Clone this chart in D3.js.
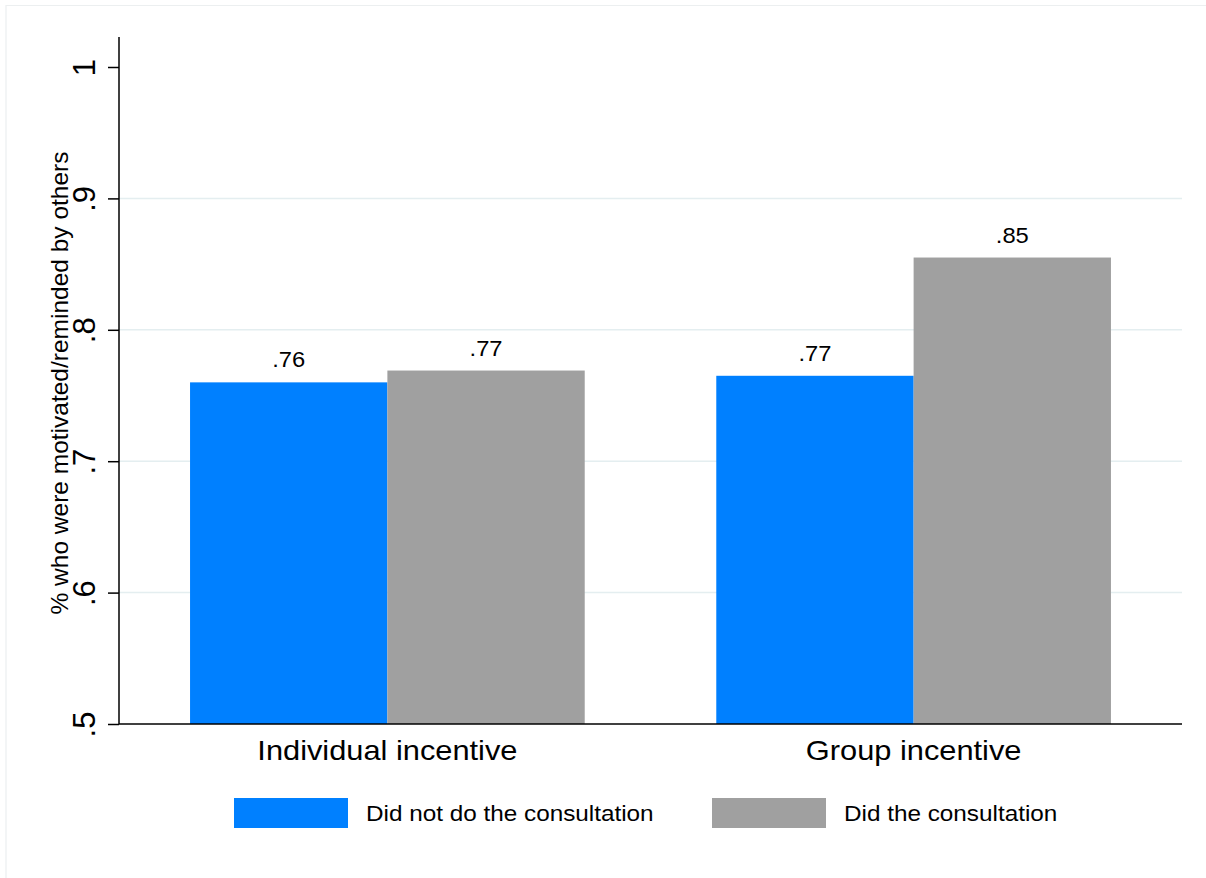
<!DOCTYPE html>
<html><head><meta charset="utf-8">
<script src="https://cdn.jsdelivr.net/npm/d3@7"></script>
<style>body{margin:0;background:#fff}svg{display:block}text{font-family:"Liberation Sans",Arial,Helvetica,sans-serif;fill:#000}</style>
</head><body>
<script>
const categories = ["Individual incentive", "Group incentive"];
const seriesNames = ["Did not do the consultation", "Did the consultation"];
const notConsulted = [0.76, 0.765];
const consulted = [0.769, 0.855];
const valueLabels = [[".76", ".77"], [".77", ".85"]];
const yTicks = [0.5, 0.6, 0.7, 0.8, 0.9, 1];
const yTickLabels = [".5", ".6", ".7", ".8", ".9", "1"];
const colors = ["#0080ff", "#a0a0a0"];

const W = 1206, H = 878;
const SX = 1.08; // horizontal text stretch seen in the reference
const svg = d3.select("body").append("svg").attr("width", W).attr("height", H);
svg.append("path").attr("d", `M6,${H}V5.5H${W}`).attr("fill", "none").attr("stroke", "#eceff0").attr("stroke-width", 1.2);

const pL = 119, pR = 1182, pT = 37, pB = 724;
const y = d3.scaleLinear().domain([0.5, 1]).range([pB, 67]);
const x0 = d3.scaleBand().domain(categories).range([pL, pR]).paddingInner(0.25).paddingOuter(0.135);
const x1 = d3.scaleBand().domain(seriesNames).range([0, x0.bandwidth()]);

// grid
svg.append("g").selectAll("line").data(yTicks.filter(t => t > 0.5 && t < 1)).join("line")
  .attr("x1", pL).attr("x2", pR).attr("y1", d => y(d)).attr("y2", d => y(d))
  .attr("stroke", "#e4eef0").attr("stroke-width", 1.5);

const rows = categories.map((c, i) => ({cat: c, vals: [notConsulted[i], consulted[i]], labs: valueLabels[i]}));
const g = svg.append("g").selectAll("g").data(rows).join("g")
  .attr("transform", d => `translate(${x0(d.cat)},0)`);
g.selectAll("rect").data(d => d.vals.map((v, j) => ({v, s: seriesNames[j], j}))).join("rect")
  .attr("x", d => x1(d.s)).attr("width", x1.bandwidth())
  .attr("y", d => y(d.v)).attr("height", d => y(0.5) - y(d.v))
  .attr("fill", d => colors[d.j]);
g.selectAll("text").data(d => d.vals.map((v, j) => ({v, s: seriesNames[j], l: d.labs[j]}))).join("text")
  .attr("transform", d => `translate(${x1(d.s) + x1.bandwidth() / 2},${y(d.v) - 15}) scale(${SX},1)`)
  .attr("text-anchor", "middle").attr("font-size", 22).text(d => d.l);

// y axis
const yAxis = d3.axisLeft(y).tickValues(yTicks).tickSize(11).tickFormat((d, i) => yTickLabels[i]);
const ya = svg.append("g").attr("transform", `translate(${pL},0)`).call(yAxis);
ya.select(".domain").attr("d", `M0,${pT}V${pB}`).attr("stroke", "#000").attr("stroke-width", 1.5);
ya.selectAll(".tick line").attr("stroke", "#000").attr("stroke-width", 1.5);
ya.selectAll(".tick text").attr("font-size", 31).attr("fill", "#000")
  .attr("x", 0).attr("y", 0).attr("dy", 0)
  .attr("text-anchor", "middle")
  .attr("transform", "translate(-24,0) rotate(-90)");
// x axis line
svg.append("line").attr("x1", pL).attr("x2", pR).attr("y1", pB).attr("y2", pB)
  .attr("stroke", "#000").attr("stroke-width", 1.5);

// category labels
svg.append("g").selectAll("text").data(categories).join("text")
  .attr("transform", d => `translate(${x0(d) + x0.bandwidth() / 2},760) scale(${SX},1)`)
  .attr("text-anchor", "middle").attr("font-size", 28.5).text(d => d);

// y label
svg.append("text").attr("transform", "translate(68,383) rotate(-90)")
  .attr("text-anchor", "middle").attr("font-size", 24.5).text("% who were motivated/reminded by others");

// legend
const legX = [234, 712];
const lg = svg.append("g").selectAll("g").data(seriesNames).join("g")
  .attr("transform", (d, i) => `translate(${legX[i]},798)`);
lg.append("rect").attr("width", 114).attr("height", 30).attr("fill", (d, i) => colors[i]);
lg.append("text").attr("transform", `translate(132,23) scale(${SX},1)`).attr("font-size", 22.5).text(d => d);
</script>
</body></html>
